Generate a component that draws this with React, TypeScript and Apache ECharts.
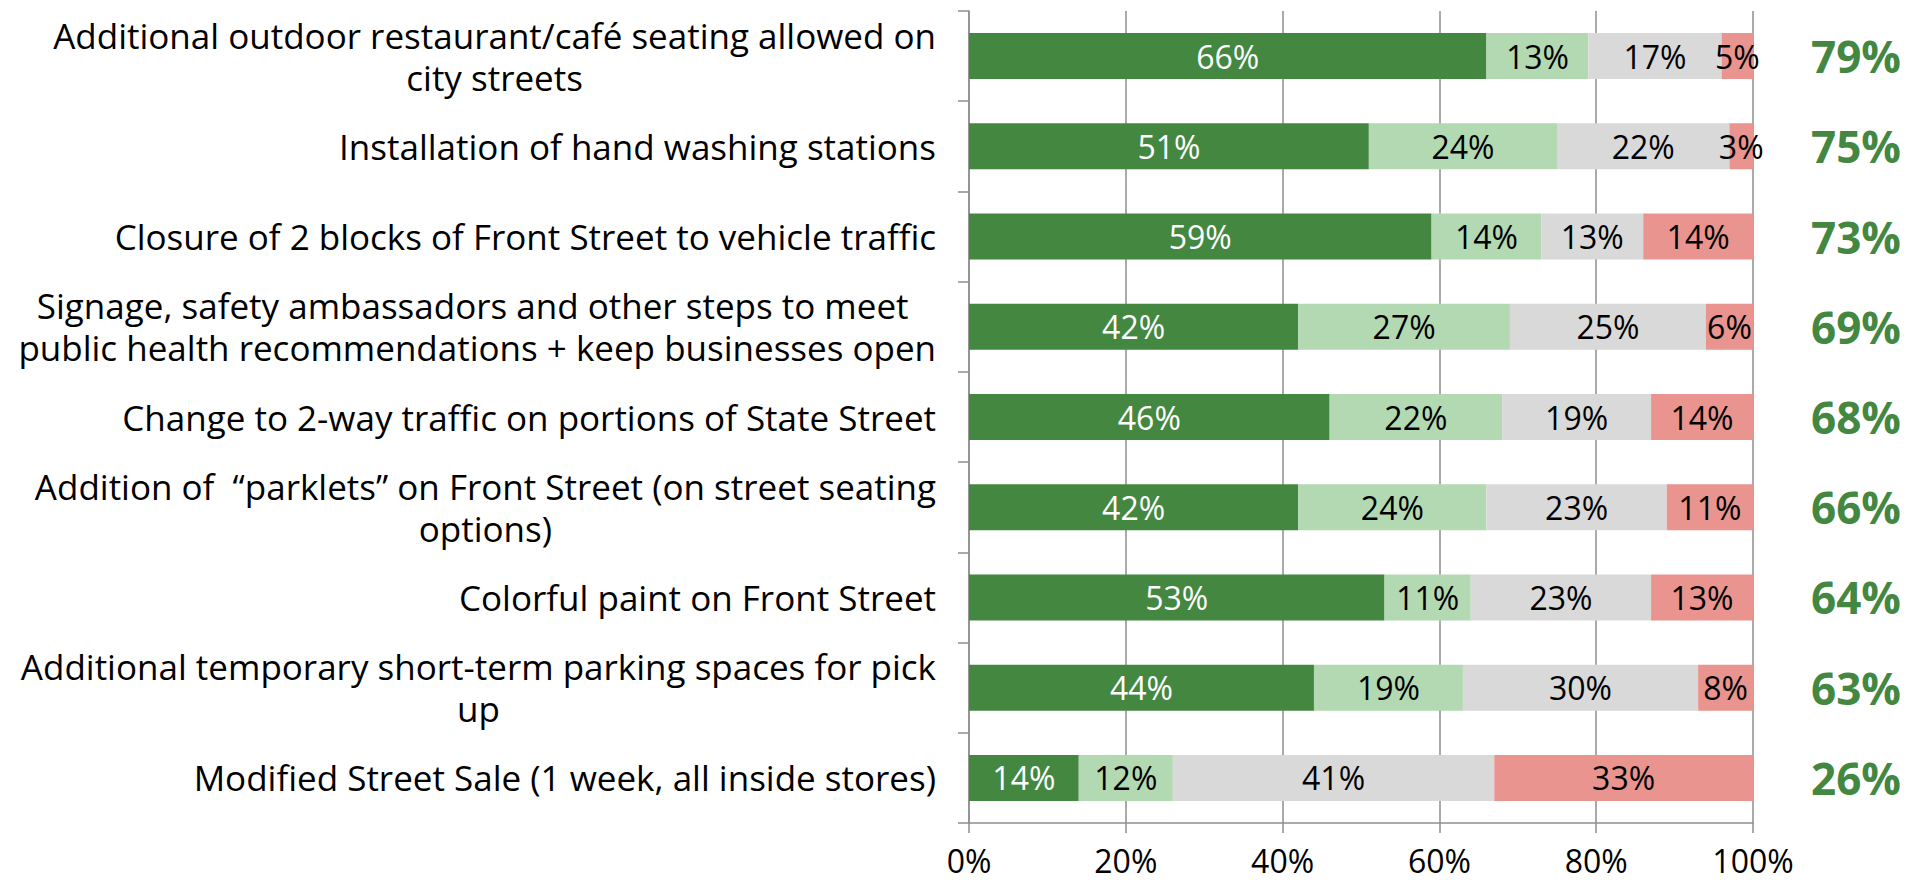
import React, { useEffect, useRef } from "react";
import * as echarts from "echarts";

const categories: string[] = [
  "Additional outdoor restaurant/café seating allowed on\ncity streets",
  "Installation of hand washing stations",
  "Closure of 2 blocks of Front Street to vehicle traffic",
  "Signage, safety ambassadors and other steps to meet \npublic health recommendations + keep businesses open",
  "Change to 2-way traffic on portions of State Street",
  "Addition of  \u201cparklets\u201d on Front Street (on street seating\noptions)",
  "Colorful paint on Front Street",
  "Additional temporary short-term parking spaces for pick\nup",
  "Modified Street Sale (1 week, all inside stores)",
];

const strongSupport: number[] = [66, 51, 59, 42, 46, 42, 53, 44, 14];
const support: number[] = [13, 24, 14, 27, 22, 24, 11, 19, 12];
const neutral: number[] = [17, 22, 13, 25, 19, 23, 23, 30, 41];
const oppose: number[] = [5, 3, 14, 6, 14, 11, 13, 8, 33];

const xTicks: number[] = [0, 20, 40, 60, 80, 100];

const FONT = '"Open Sans", "DejaVu Sans", sans-serif';
const DARK_GREEN = "#438741";
const LIGHT_GREEN = "#B3D9B2";
const GREY = "#D9D9D9";
const PINK = "#E9948F";
const AXIS_GREY = "#8E8E8E";

export default function App() {
  const ref = useRef<HTMLDivElement | null>(null);

  useEffect(() => {
    document.body.style.margin = "0";
    document.body.style.overflow = "hidden";
    if (!ref.current) return;
    const chart = echarts.init(ref.current, undefined, { renderer: "svg" });

    const totals = strongSupport.map((v, i) => `${v + support[i]}%`);

    const mkSeries = (name: string, data: number[], color: string, labelColor: string) => ({
      name,
      type: "bar",
      stack: "total",
      barWidth: "51%",
      data,
      itemStyle: { color },
      label: {
        show: true,
        position: "inside",
        formatter: "{c}%",
        color: labelColor,
        fontSize: 32,
        fontFamily: FONT,
      },
    });

    chart.setOption({
      animation: false,
      backgroundColor: "#ffffff",
      grid: { left: 969, right: 172, top: 11, bottom: 60, containLabel: false },
      xAxis: {
        type: "value",
        min: xTicks[0],
        max: xTicks[xTicks.length - 1],
        interval: 20,
        axisLine: { show: true, lineStyle: { color: AXIS_GREY, width: 1.5 } },
        axisTick: { show: true, length: 10, lineStyle: { color: AXIS_GREY, width: 1.5 } },
        splitLine: { show: true, lineStyle: { color: AXIS_GREY, width: 1.5 } },
        axisLabel: {
          formatter: "{value}%",
          fontSize: 32,
          fontFamily: FONT,
          color: "#000",
          margin: 21,
        },
      },
      yAxis: [
        {
          type: "category",
          inverse: true,
          data: categories,
          axisLine: { show: true, lineStyle: { color: AXIS_GREY, width: 1.5 } },
          axisTick: { show: true, length: 11, lineStyle: { color: AXIS_GREY, width: 1.5 } },
          axisLabel: {
            margin: 33,
            fontSize: 35,
            fontFamily: FONT,
            color: "#000",
            lineHeight: 42,
            formatter: (v: string) =>
              v
                .split("\n")
                .map((l) => `{c|${l}}`)
                .join("\n"),
            rich: {
              c: {
                align: "center",
                fontSize: 35,
                fontFamily: FONT,
                color: "#000",
                lineHeight: 42,
              },
            },
          },
        },
        {
          type: "category",
          inverse: true,
          position: "right",
          data: totals,
          axisLine: { show: false },
          axisTick: { show: false },
          axisLabel: {
            margin: 58,
            fontSize: 44,
            fontWeight: "bold",
            fontFamily: FONT,
            color: DARK_GREEN,
          },
        },
      ],
      series: [
        mkSeries("Strongly support", strongSupport, DARK_GREEN, "#ffffff"),
        mkSeries("Somewhat support", support, LIGHT_GREEN, "#000000"),
        mkSeries("Neutral", neutral, GREY, "#000000"),
        mkSeries("Oppose", oppose, PINK, "#000000"),
      ],
    });

    return () => chart.dispose();
  }, []);

  return <div ref={ref} style={{ width: 1925, height: 883 }} />;
}
